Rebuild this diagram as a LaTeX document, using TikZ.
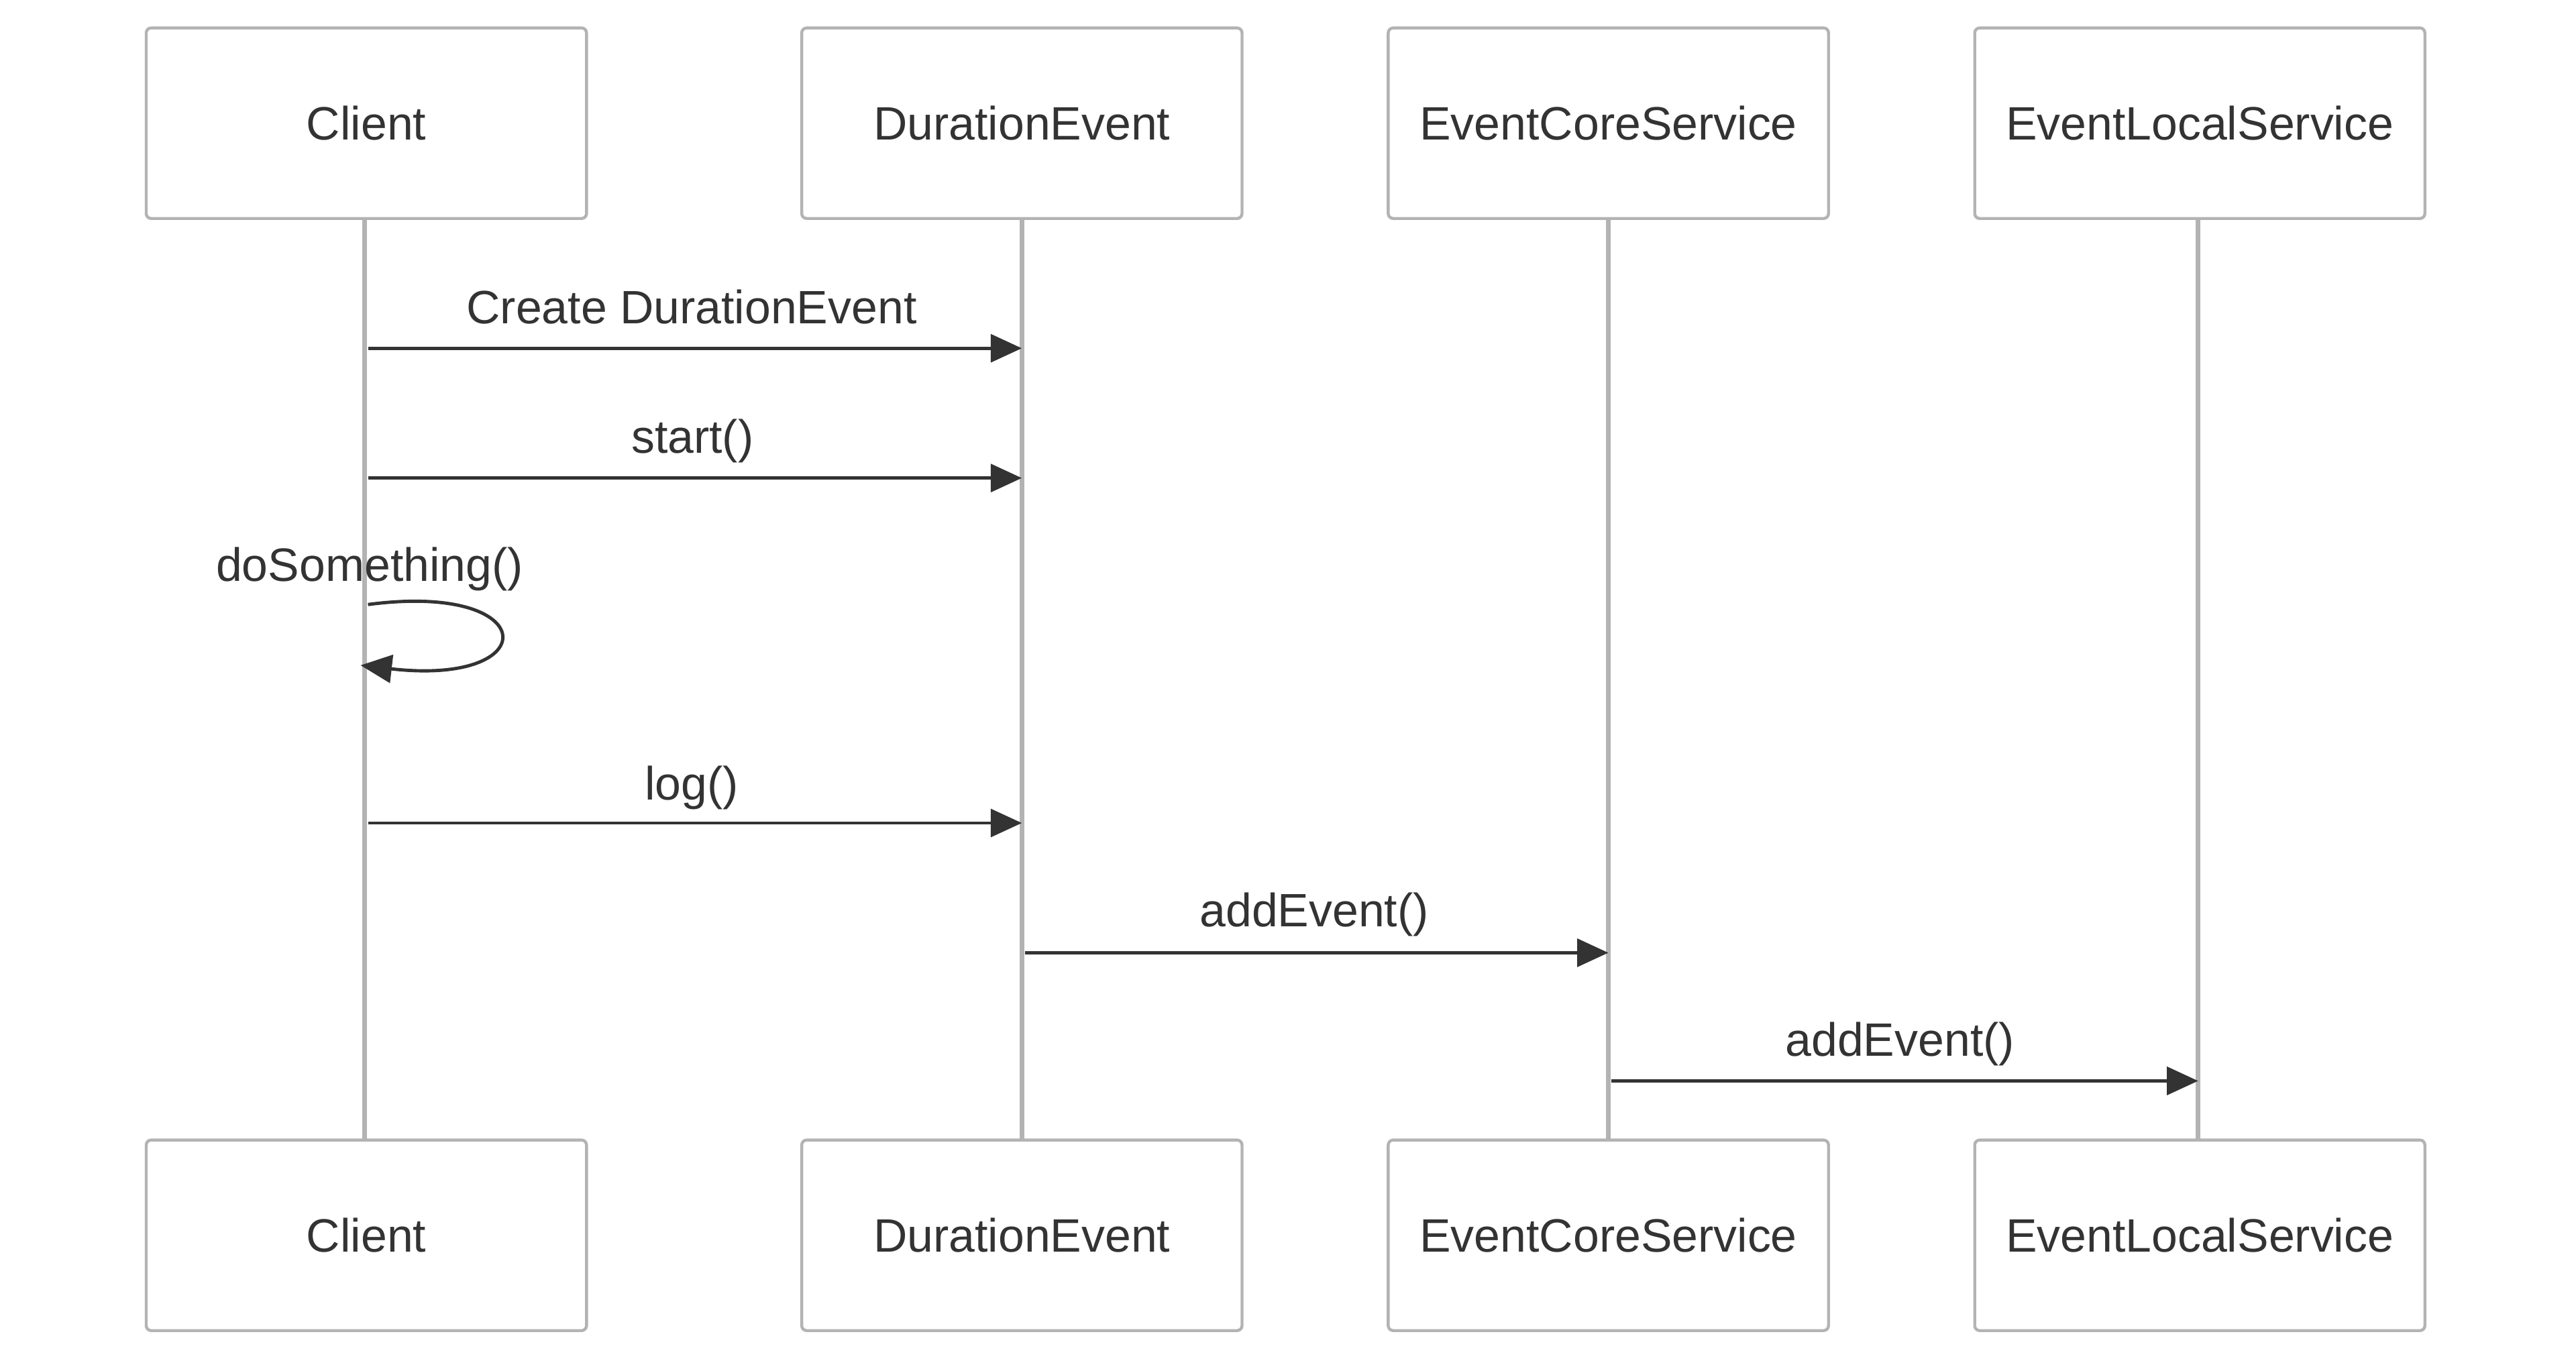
\documentclass[tikz,border=0pt]{standalone}
\usepackage{fontspec}
\setmainfont{Liberation Sans}
\usetikzlibrary{arrows.meta}
\definecolor{txt}{HTML}{333333}
\definecolor{bord}{HTML}{B3B3B3}
\begin{document}
\begin{tikzpicture}[x=0.5pt,y=-0.5pt,
 actor/.style={draw=bord, line width=0.9pt, fill=white, rounded corners=1.5pt, minimum width=134pt, minimum height=58pt, inner sep=0pt, font=\fontsize{14.25}{17}\selectfont, text=txt},
 life/.style={draw=bord, line width=1.4pt},
 msg/.style={draw=txt, line width=1pt, -{Triangle[length=9.5pt,width=8.5pt]}},
 lbl/.style={font=\fontsize{14.25}{17}\selectfont, text=txt, inner sep=0pt, anchor=base}]
\useasboundingbox (0,0) rectangle (1568,832);
% lifelines first
\coordinate (l1t) at (222,133); \coordinate (l1b) at (222,694);
\coordinate (l2t) at (622,133); \coordinate (l2b) at (622,694);
\coordinate (l3t) at (979,133); \coordinate (l3b) at (979,694);
\coordinate (l4t) at (1338,133); \coordinate (l4b) at (1338,694);
\draw[life] (l1t) -- (l1b);
\draw[life] (l2t) -- (l2b);
\draw[life] (l3t) -- (l3b);
\draw[life] (l4t) -- (l4b);
% actors
\node[actor] (a1) at (223,75) {Client};
\node[actor] (a2) at (622,75) {DurationEvent};
\node[actor] (a3) at (979,75) {EventCoreService};
\node[actor, minimum width=137pt] (a4) at (1339,75) {EventLocalService};
\node[actor] (b1) at (223,752) {Client};
\node[actor] (b2) at (622,752) {DurationEvent};
\node[actor] (b3) at (979,752) {EventCoreService};
\node[actor, minimum width=137pt] (b4) at (1339,752) {EventLocalService};
% message points
\coordinate (m1s) at (224,212); \coordinate (m1e) at (622,212);
\coordinate (m2s) at (224,291); \coordinate (m2e) at (622,291);
\coordinate (m3s) at (224,368); \coordinate (m3e) at (219.5,405);
\coordinate (m4s) at (224,501); \coordinate (m4e) at (622,501);
\coordinate (m5s) at (624,580); \coordinate (m5e) at (979,580);
\coordinate (m6s) at (981,658); \coordinate (m6e) at (1338,658);
\draw[msg] (m1s) -- (m1e);
\draw[msg] (m2s) -- (m2e);
\draw[msg] (m3s) .. controls (330,354) and (332,418) .. (m3e);
\draw[msg] (m4s) -- (m4e);
\draw[msg] (m5s) -- (m5e);
\draw[msg] (m6s) -- (m6e);
% labels
\node[lbl] (t1) at (421,197) {Create DurationEvent};
\node[lbl] (t2) at (421.5,276) {start()};
\node[lbl] (t3) at (225,354) {doSomething()};
\node[lbl] (t4) at (421,487) {log()};
\node[lbl] (t5) at (800,564) {addEvent()};
\node[lbl] (t6) at (1156.5,643) {addEvent()};
\end{tikzpicture}
\end{document}
